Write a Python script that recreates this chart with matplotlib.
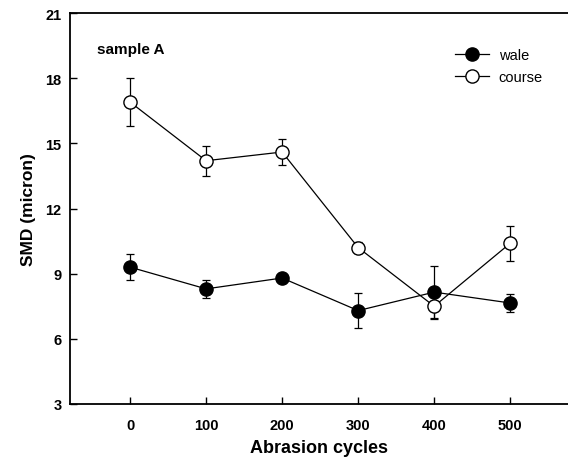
import matplotlib
matplotlib.use("Agg")
import matplotlib.pyplot as plt
from matplotlib.lines import Line2D

plt.rcParams['font.family'] = ['Liberation Sans', 'DejaVu Sans']

# abrasion cycles
cycles = [0, 100, 200, 300, 400, 500]

# SMD values (micron) and error bars
wale = [9.3, 8.3, 8.8, 7.3, 8.15, 7.65]
wale_err = [0.6, 0.4, 0.12, 0.8, 1.2, 0.4]
course = [16.9, 14.2, 14.6, 10.2, 7.5, 10.4]
course_err = [1.1, 0.7, 0.6, 0.25, 0.6, 0.8]

yticks = [3, 6, 9, 12, 15, 18, 21]

fig = plt.figure(figsize=(5.68, 4.64), dpi=100)
ax = fig.add_axes([70 / 568, 59 / 464, 1 - 70 / 568, 391 / 464])

style = dict(color='black', marker='o', markersize=9.5, markeredgecolor='black',
             lw=0.9, elinewidth=0.9, capsize=3, capthick=0.9)
ax.errorbar(cycles, wale, yerr=wale_err, markerfacecolor='black', **style)
ax.errorbar(cycles, course, yerr=course_err, markerfacecolor='white', **style)

ax.set_xlim(-79, 576)
ax.set_ylim(3, 21)
ax.set_xticks(cycles)
ax.set_yticks(yticks)
ax.tick_params(direction='in', length=5, width=1, labelsize=10.5)
ax.tick_params(axis='x', pad=10)
ax.tick_params(axis='y', pad=6)
for lbl in ax.get_xticklabels() + ax.get_yticklabels():
    lbl.set_fontweight('bold')

ax.spines['right'].set_visible(False)
for s in ['left', 'top', 'bottom']:
    ax.spines[s].set_linewidth(1.3)

ax.set_xlabel('Abrasion cycles', fontsize=13, fontweight='bold', labelpad=5)
ax.set_ylabel('SMD (micron)', fontsize=12.5, fontweight='bold', labelpad=7)

ax.text(0.054, 0.908, 'sample A', transform=ax.transAxes, fontsize=11,
        fontweight='bold', va='center', ha='left')

handles = [
    Line2D([], [], color='black', lw=0.9, marker='o', markersize=9.5,
           markerfacecolor='black', markeredgecolor='black'),
    Line2D([], [], color='black', lw=0.9, marker='o', markersize=9.5,
           markerfacecolor='white', markeredgecolor='black'),
]
fig.legend(handles, ['wale', 'course'], loc='upper left',
           bbox_to_anchor=(455 / 568, 1 - 49 / 464), frameon=False,
           fontsize=10.5, handlelength=2.3, handletextpad=0.7,
           labelspacing=0.55, borderpad=0, borderaxespad=0)

fig.savefig('out.png', dpi=100)
